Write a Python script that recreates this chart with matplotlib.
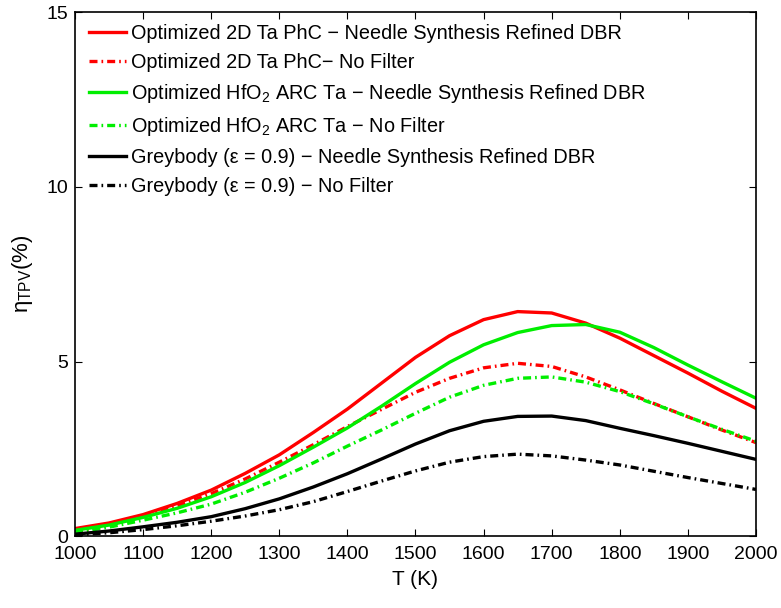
import matplotlib
matplotlib.use("Agg")
import matplotlib.pyplot as plt

plt.rcParams['font.family'] = ['Liberation Sans', 'DejaVu Sans']
plt.rcParams['mathtext.fontset'] = 'custom'
plt.rcParams['mathtext.rm'] = 'Liberation Sans'
plt.rcParams['mathtext.it'] = 'Liberation Sans'

# Temperature (K)
T = [1000, 1050, 1100, 1150, 1200, 1250, 1300, 1350, 1400, 1450, 1500,
     1550, 1600, 1650, 1700, 1750, 1800, 1850, 1900, 1950, 2000]

# TPV efficiency (%)
phc_dbr  = [0.22, 0.38, 0.62, 0.94, 1.32, 1.80, 2.33, 2.97, 3.64, 4.38, 5.12,
            5.74, 6.20, 6.43, 6.39, 6.10, 5.67, 5.17, 4.67, 4.15, 3.66]
phc_nf   = [0.12, 0.32, 0.58, 0.87, 1.22, 1.64, 2.12, 2.62, 3.14, 3.63, 4.12,
            4.52, 4.82, 4.95, 4.86, 4.56, 4.19, 3.80, 3.42, 3.04, 2.68]
hfo2_dbr = [0.17, 0.32, 0.54, 0.80, 1.13, 1.54, 2.02, 2.55, 3.10, 3.72, 4.37,
            4.98, 5.48, 5.83, 6.03, 6.06, 5.84, 5.40, 4.90, 4.42, 3.95]
hfo2_nf  = [0.10, 0.26, 0.46, 0.67, 0.92, 1.26, 1.66, 2.10, 2.58, 3.04, 3.52,
            3.98, 4.32, 4.52, 4.56, 4.41, 4.14, 3.79, 3.42, 3.06, 2.72]
grey_dbr = [0.06, 0.15, 0.27, 0.40, 0.56, 0.79, 1.07, 1.41, 1.79, 2.21, 2.64,
            3.02, 3.29, 3.43, 3.44, 3.31, 3.09, 2.88, 2.66, 2.43, 2.20]
grey_nf  = [0.04, 0.10, 0.19, 0.30, 0.43, 0.58, 0.76, 0.99, 1.28, 1.58, 1.87,
            2.12, 2.28, 2.35, 2.30, 2.18, 2.04, 1.86, 1.68, 1.51, 1.34]

labels = [
    "Optimized 2D Ta PhC \u2212 Needle Synthesis Refined DBR",
    "Optimized 2D Ta PhC\u2212 No Filter",
    "Optimized HfO$_2$ ARC Ta \u2212 Needle Synthesis Refined DBR",
    "Optimized HfO$_2$ ARC Ta \u2212 No Filter",
    "Greybody (\u03b5 = 0.9) \u2212 Needle Synthesis Refined DBR",
    "Greybody (\u03b5 = 0.9) \u2212 No Filter",
]

red = "#ff0000"
green = "#00ee00"
black = "#000000"
dashdot = (0, (2.4, 1.2, 0.5, 1.2))
lw = 2.4

fig = plt.figure(figsize=(7.81, 6.08), dpi=100)
ax = fig.add_axes([0.096, 0.118, 0.872, 0.862])

ax.plot(T, phc_dbr, color=red, lw=lw, label=labels[0])
ax.plot(T, phc_nf, color=red, lw=lw, ls=dashdot, label=labels[1])
ax.plot(T, hfo2_dbr, color=green, lw=lw, label=labels[2])
ax.plot(T, hfo2_nf, color=green, lw=lw, ls=dashdot, label=labels[3])
ax.plot(T, grey_dbr, color=black, lw=lw, label=labels[4])
ax.plot(T, grey_nf, color=black, lw=lw, ls=dashdot, label=labels[5])

ax.set_xlim(1000, 2000)
ax.set_ylim(0, 15)
ax.set_xticks(range(1000, 2001, 100))
ax.set_yticks([0, 5, 10, 15])
ax.tick_params(direction='in', top=True, right=True, labelsize=14, length=5, width=0.8)
ax.tick_params(axis='x', pad=7)
ax.tick_params(axis='y', pad=5)
for s in ax.spines.values():
    s.set_linewidth(1.2)

ax.set_xlabel("T (K)", fontsize=15, labelpad=5)
ax.set_ylabel("$\\eta_{TPV}$(%)", fontsize=16, labelpad=8)

leg = ax.legend(loc='upper left', frameon=False, fontsize=14.3, handlelength=1.85,
                handletextpad=0.25, labelspacing=0.5, borderaxespad=0.0,
                bbox_to_anchor=(0.009, 0.992))

fig.savefig("out.png", dpi=100)
